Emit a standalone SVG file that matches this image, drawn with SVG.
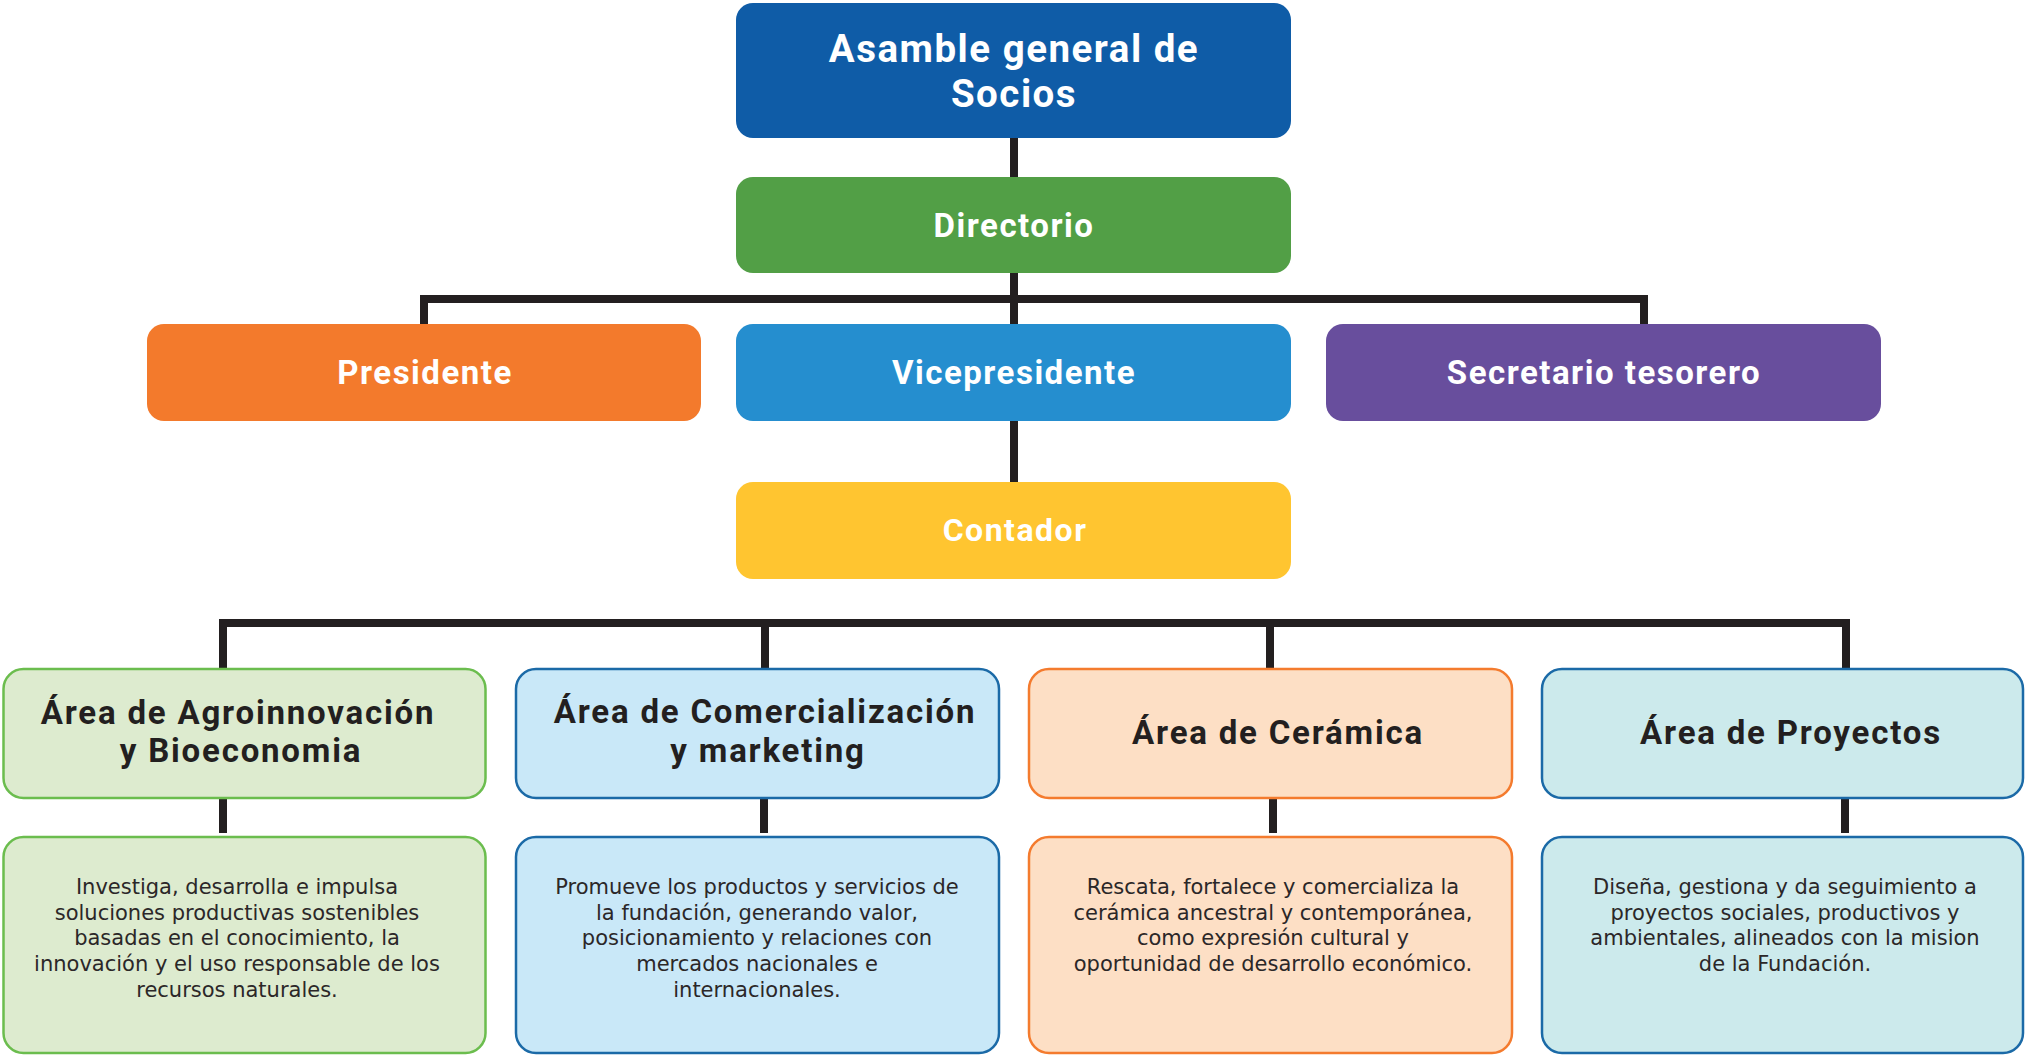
<svg xmlns="http://www.w3.org/2000/svg" width="2025" height="1056" viewBox="0 0 2025 1056">
<style>
.hdr{font-family:Roboto,"Open Sans","Liberation Sans",sans-serif;font-weight:700;fill:#ffffff;text-anchor:middle;letter-spacing:1.5px}
.ttl{font-family:Roboto,"Open Sans","Liberation Sans",sans-serif;font-weight:700;fill:#231f20;text-anchor:middle;font-size:33px;letter-spacing:1.8px}
.dsc{font-family:"DejaVu Sans","Open Sans","Liberation Sans",sans-serif;font-weight:400;fill:#2b2728;text-anchor:middle;font-size:21px}
.conn{fill:none;stroke:#231f20;stroke-width:8;stroke-linejoin:miter;stroke-linecap:butt}
.abox{stroke-width:2.5}
</style>
<rect width="2025" height="1056" fill="#ffffff"/>
<g id="connectors">
<path class="conn" d="M1014,138 V177"/>
<path class="conn" d="M424,324 V299 H1644 V324"/>
<path class="conn" d="M1014,273 V324"/>
<path class="conn" d="M1014,421 V482"/>
<path class="conn" d="M223,669 V623 H1846 V669"/>
<path class="conn" d="M765,623 V669"/>
<path class="conn" d="M1270,623 V669"/>
<path class="conn" d="M223,798 V833"/>
<path class="conn" d="M764,798 V833"/>
<path class="conn" d="M1273,798 V833"/>
<path class="conn" d="M1845,798 V833"/>
</g>
<g id="asamblea">
<rect x="736" y="3" width="555" height="135" rx="17" fill="#0f5ca7"/>
<text class="hdr" x="1014" y="62" font-size="38.5" letter-spacing="2.2">Asamble general de</text>
<text class="hdr" x="1014" y="107" font-size="38.5" letter-spacing="2.2">Socios</text>
</g>
<g id="directorio">
<rect x="736" y="177" width="555" height="96" rx="17" fill="#529f46"/>
<text class="hdr" x="1014" y="237" font-size="33">Directorio</text>
</g>
<g id="presidente">
<rect x="147" y="324" width="554" height="97" rx="17" fill="#f37a2c"/>
<text class="hdr" x="425" y="384" font-size="33">Presidente</text>
</g>
<g id="vicepresidente">
<rect x="736" y="324" width="555" height="97" rx="17" fill="#258ecf"/>
<text class="hdr" x="1014" y="384" font-size="33" letter-spacing="1.7">Vicepresidente</text>
</g>
<g id="secretario">
<rect x="1326" y="324" width="555" height="97" rx="17" fill="#684e9d"/>
<text class="hdr" x="1604" y="384" font-size="33">Secretario tesorero</text>
</g>
<g id="contador">
<rect x="736" y="482" width="555" height="97" rx="17" fill="#ffc530"/>
<text class="hdr" x="1015" y="541" font-size="32" letter-spacing="3">Contador</text>
</g>
<g id="area-agro">
<rect class="abox" x="3.5" y="669" width="482" height="129" rx="20" fill="#ddebcf" stroke="#6bbd4e"/>
<text class="ttl" x="238" y="724">Área de Agroinnovación</text>
<text class="ttl" x="241" y="762">y Bioeconomia</text>
</g>
<g id="desc-agro">
<rect class="abox" x="3.5" y="837" width="482" height="216" rx="20" fill="#ddebcf" stroke="#6bbd4e"/>
<text class="dsc" x="237" y="894">Investiga, desarrolla e impulsa</text>
<text class="dsc" x="237" y="920">soluciones productivas sostenibles</text>
<text class="dsc" x="237" y="945">basadas en el conocimiento, la</text>
<text class="dsc" x="237" y="971">innovación y el uso responsable de los</text>
<text class="dsc" x="237" y="997">recursos naturales.</text>
</g>
<g id="area-comercial">
<rect class="abox" x="516" y="669" width="483" height="129" rx="20" fill="#c9e8f8" stroke="#1b6aa7"/>
<text class="ttl" x="765" y="723">Área de Comercialización</text>
<text class="ttl" x="768" y="762">y marketing</text>
</g>
<g id="desc-comercial">
<rect class="abox" x="516" y="837" width="483" height="216" rx="20" fill="#c9e8f8" stroke="#1b6aa7"/>
<text class="dsc" x="757" y="894">Promueve los productos y servicios de</text>
<text class="dsc" x="757" y="920">la fundación, generando valor,</text>
<text class="dsc" x="757" y="945">posicionamiento y relaciones con</text>
<text class="dsc" x="757" y="971">mercados nacionales e</text>
<text class="dsc" x="757" y="997">internacionales.</text>
</g>
<g id="area-ceramica">
<rect class="abox" x="1029" y="669" width="483" height="129" rx="20" fill="#fddfc5" stroke="#f47b2e"/>
<text class="ttl" x="1278" y="744" letter-spacing="2.1">Área de Cerámica</text>
</g>
<g id="desc-ceramica">
<rect class="abox" x="1029" y="837" width="483" height="216" rx="20" fill="#fddfc5" stroke="#f47b2e"/>
<text class="dsc" x="1273" y="894">Rescata, fortalece y comercializa la</text>
<text class="dsc" x="1273" y="920">cerámica ancestral y contemporánea,</text>
<text class="dsc" x="1273" y="945">como expresión cultural y</text>
<text class="dsc" x="1273" y="971">oportunidad de desarrollo económico.</text>
</g>
<g id="area-proyectos">
<rect class="abox" x="1542" y="669" width="481" height="129" rx="20" fill="#cceaec" stroke="#1b6aa7"/>
<text class="ttl" x="1791" y="744" letter-spacing="1.5">Área de Proyectos</text>
</g>
<g id="desc-proyectos">
<rect class="abox" x="1542" y="837" width="481" height="216" rx="20" fill="#cceaec" stroke="#1b6aa7"/>
<text class="dsc" x="1785" y="894">Diseña, gestiona y da seguimiento a</text>
<text class="dsc" x="1785" y="920">proyectos sociales, productivos y</text>
<text class="dsc" x="1785" y="945">ambientales, alineados con la mision</text>
<text class="dsc" x="1785" y="971">de la Fundación.</text>
</g>
</svg>
